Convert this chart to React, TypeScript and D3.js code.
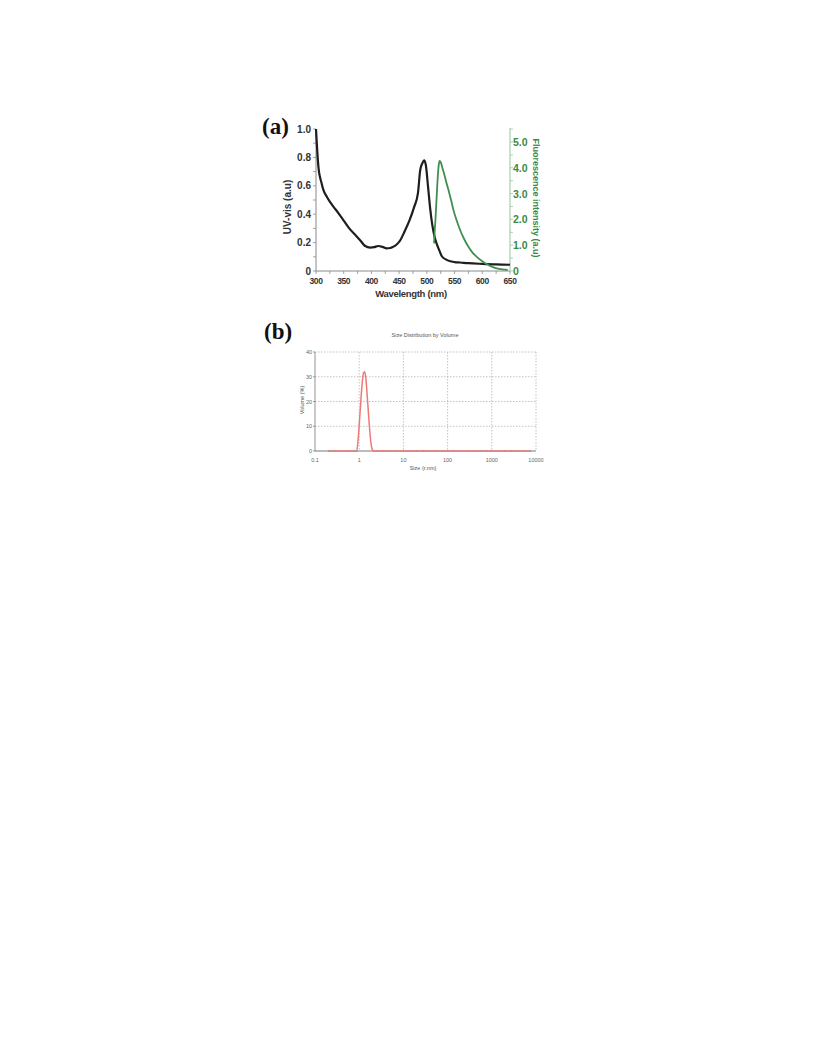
import React from "react";
import * as d3 from "d3";

// Panel (a) data
const uvWavelength = [300, 301, 303, 305, 307, 310, 313, 320, 331, 340, 349, 360, 373, 380, 388, 398, 405, 412, 420, 427, 434, 439, 445, 451, 460, 469, 477, 484, 488, 492, 495, 498, 502, 506, 510, 514, 518, 523, 527, 535, 541, 550, 560, 575, 600, 625, 650];
const uvAbs = [1.0, 0.93, 0.8, 0.71, 0.665, 0.62, 0.575, 0.52, 0.455, 0.41, 0.36, 0.3, 0.245, 0.215, 0.178, 0.165, 0.168, 0.176, 0.17, 0.16, 0.162, 0.17, 0.185, 0.21, 0.28, 0.36, 0.45, 0.55, 0.71, 0.76, 0.78, 0.75, 0.6, 0.44, 0.32, 0.24, 0.19, 0.14, 0.104, 0.08, 0.07, 0.063, 0.06, 0.055, 0.05, 0.046, 0.044];
const flWavelength = [513, 514, 515.5, 517, 518, 520, 521.5, 523, 525, 528, 531, 535, 539, 544, 548, 554, 560, 567, 575, 582, 590, 600, 608, 617, 626, 636, 646];
const flIntensity = [1.07, 1.5, 1.98, 2.6, 3.0, 3.75, 4.12, 4.27, 4.22, 4.0, 3.78, 3.45, 3.14, 2.72, 2.36, 1.95, 1.59, 1.25, 0.94, 0.72, 0.55, 0.38, 0.27, 0.17, 0.1, 0.06, 0.04];
const xTicksA = [300, 350, 400, 450, 500, 550, 600, 650];
const leftTicks = [0, 0.2, 0.4, 0.6, 0.8, 1.0];
const rightTicks = [0, 1, 2, 3, 4, 5];

// Panel (b) data
const sizes = [0.2, 0.28, 0.4, 0.55, 0.75, 0.88, 0.95, 1.05, 1.15, 1.25, 1.33, 1.42, 1.55, 1.7, 1.85, 2.0, 2.15, 2.6, 3.6, 5, 7, 10, 14, 20, 28, 40, 55, 75, 100, 140, 200, 280, 400, 550, 750, 1000, 1400, 2000, 2800, 4000, 5500, 7500];
const volume = [0, 0, 0, 0, 0, 0, 5, 16, 26, 31.5, 32, 29, 20, 10, 3, 0.5, 0, 0, 0, 0, 0, 0, 0, 0, 0, 0, 0, 0, 0, 0, 0, 0, 0, 0, 0, 0, 0, 0, 0, 0, 0, 0];
const xTicksB = [0.1, 1, 10, 100, 1000, 10000];
const yTicksB = [0, 10, 20, 30, 40];

export default function App() {
  // Panel a scales
  const xA = d3.scaleLinear().domain([300, 650]).range([316, 510]);
  const yL = d3.scaleLinear().domain([0, 1]).range([271, 129]);
  const yR = d3.scaleLinear().domain([0, 5]).range([271, 142]);
  const uvLine = d3.line<number>().x((_, i) => xA(uvWavelength[i])).y((d) => yL(d)).curve(d3.curveMonotoneX);
  const flLine = d3.line<number>().x((_, i) => xA(flWavelength[i])).y((d) => yR(d)).curve(d3.curveMonotoneX);
  const green = "#3f8f4e";
  const greenText = "#3a8a45";
  const minorX = d3.range(300, 651, 25);
  const minorL = d3.range(0, 1.01, 0.1);
  const minorR = d3.range(0, 5.6, 0.5);

  // Panel b scales
  const xB = d3.scaleLog().domain([0.1, 10000]).range([315, 536]);
  const yB = d3.scaleLinear().domain([0, 40]).range([451, 352]);
  const volLine = d3.line<number>().x((_, i) => xB(sizes[i])).y((d) => yB(d)).curve(d3.curveMonotoneX);

  const sans = "Arial, 'Liberation Sans', sans-serif";

  return (
    <svg width={816} height={1056} style={{ position: "absolute", left: 0, top: 0, background: "#fff" }}>
      {/* Panel (a) */}
      <text x={262} y={134} fontFamily="'Liberation Serif', 'Times New Roman', serif" fontWeight="bold" fontSize={23} fill="#111">(a)</text>
      {/* left axis */}
      <line x1={316} x2={316} y1={yL(1)} y2={271} stroke="#8a8a8a" strokeWidth={1} />
      {minorL.map((t, i) => (
        <line key={"ml" + i} x1={316} x2={313} y1={yL(t)} y2={yL(t)} stroke="#8a8a8a" strokeWidth={0.8} />
      ))}
      {leftTicks.map((t) => (
        <text key={"lt" + t} x={311} y={yL(t) + 3.5} textAnchor="end" fontFamily={sans} fontWeight="bold" fontSize={10} fill="#333">
          {t === 0 ? "0" : t.toFixed(1)}
        </text>
      ))}
      <text transform={`translate(291,207) rotate(-90)`} textAnchor="middle" fontFamily={sans} fontWeight="bold" fontSize={10} fill="#333">UV-vis (a.u)</text>
      {/* bottom axis */}
      <line x1={316} x2={510} y1={271} y2={271} stroke="#8a8a8a" strokeWidth={1} />
      {minorX.map((t) => (
        <line key={"mx" + t} x1={xA(t)} x2={xA(t)} y1={271} y2={274} stroke="#8a8a8a" strokeWidth={0.8} />
      ))}
      {xTicksA.map((t) => (
        <text key={"xt" + t} x={xA(t)} y={284} textAnchor="middle" fontFamily={sans} fontWeight="bold" fontSize={8.5} fill="#333" letterSpacing={-0.4}>{t}</text>
      ))}
      <text x={411} y={297} textAnchor="middle" fontFamily={sans} fontWeight="bold" fontSize={9.5} fill="#333" letterSpacing={-0.3}>Wavelength (nm)</text>
      {/* right axis */}
      <line x1={510} x2={510} y1={128} y2={271} stroke="#9cc3a2" strokeWidth={1} />
      {minorR.map((t, i) => (
        <line key={"mr" + i} x1={510} x2={513} y1={yR(t)} y2={yR(t)} stroke="#9cc3a2" strokeWidth={0.8} />
      ))}
      {rightTicks.map((t) => (
        <text key={"rt" + t} x={513} y={yR(t) + 4} textAnchor="start" fontFamily={sans} fontWeight="bold" fontSize={10.5} fill={greenText}>
          {t === 0 ? "0" : t.toFixed(1)}
        </text>
      ))}
      <text transform={`translate(533,198) rotate(90)`} textAnchor="middle" fontFamily={sans} fontWeight="bold" fontSize={9} fill={greenText}>Fluorescence intensity (a.u)</text>
      {/* curves */}
      <path d={uvLine(uvAbs) ?? ""} fill="none" stroke="#1e1e1e" strokeWidth={2.2} />
      <path d={flLine(flIntensity) ?? ""} fill="none" stroke={green} strokeWidth={1.8} />

      {/* Panel (b) */}
      <text x={264} y={339} fontFamily="'Liberation Serif', 'Times New Roman', serif" fontWeight="bold" fontSize={23} fill="#111">(b)</text>
      <text x={425} y={337} textAnchor="middle" fontFamily={sans} fontSize={5.5} fill="#555">Size Distribution by Volume</text>
      {/* gridlines */}
      {yTicksB.filter((t) => t > 0).map((t) => (
        <line key={"gy" + t} x1={315} x2={536} y1={yB(t)} y2={yB(t)} stroke="#aaa" strokeWidth={0.7} strokeDasharray="1.5,1.5" />
      ))}
      {xTicksB.filter((t) => t > 0.1).map((t) => (
        <line key={"gx" + t} x1={xB(t)} x2={xB(t)} y1={352} y2={451} stroke="#aaa" strokeWidth={0.7} strokeDasharray="1.5,1.5" />
      ))}
      <line x1={315} x2={315} y1={352} y2={451} stroke="#777" strokeWidth={0.8} />
      <line x1={315} x2={536} y1={451} y2={451} stroke="#555" strokeWidth={0.8} />
      {yTicksB.map((t) => (
        <g key={"yb" + t}>
          <line x1={313} x2={315} y1={yB(t)} y2={yB(t)} stroke="#777" strokeWidth={0.7} />
          <text x={312} y={yB(t) + 2} textAnchor="end" fontFamily={sans} fontSize={5.5} fill="#666">{t}</text>
        </g>
      ))}
      {xTicksB.map((t) => (
        <text key={"xb" + t} x={xB(t)} y={462} textAnchor="middle" fontFamily={sans} fontSize={5.5} fill="#666">{t}</text>
      ))}
      <text x={423} y={470} textAnchor="middle" fontFamily={sans} fontSize={5.5} fill="#555">Size (r.nm)</text>
      <text transform={`translate(304,400) rotate(-90)`} textAnchor="middle" fontFamily={sans} fontSize={5.5} fill="#555">Volume (%)</text>
      <path d={volLine(volume) ?? ""} fill="none" stroke="#f07878" strokeWidth={1.5} />
      {sizes.map((s, i) => volume[i] === 0 ? (
        <line key={"mk" + i} x1={xB(s)} x2={xB(s)} y1={yB(0) - 1} y2={yB(0) + 1} stroke="#999" strokeWidth={0.8} />
      ) : null)}
    </svg>
  );
}
